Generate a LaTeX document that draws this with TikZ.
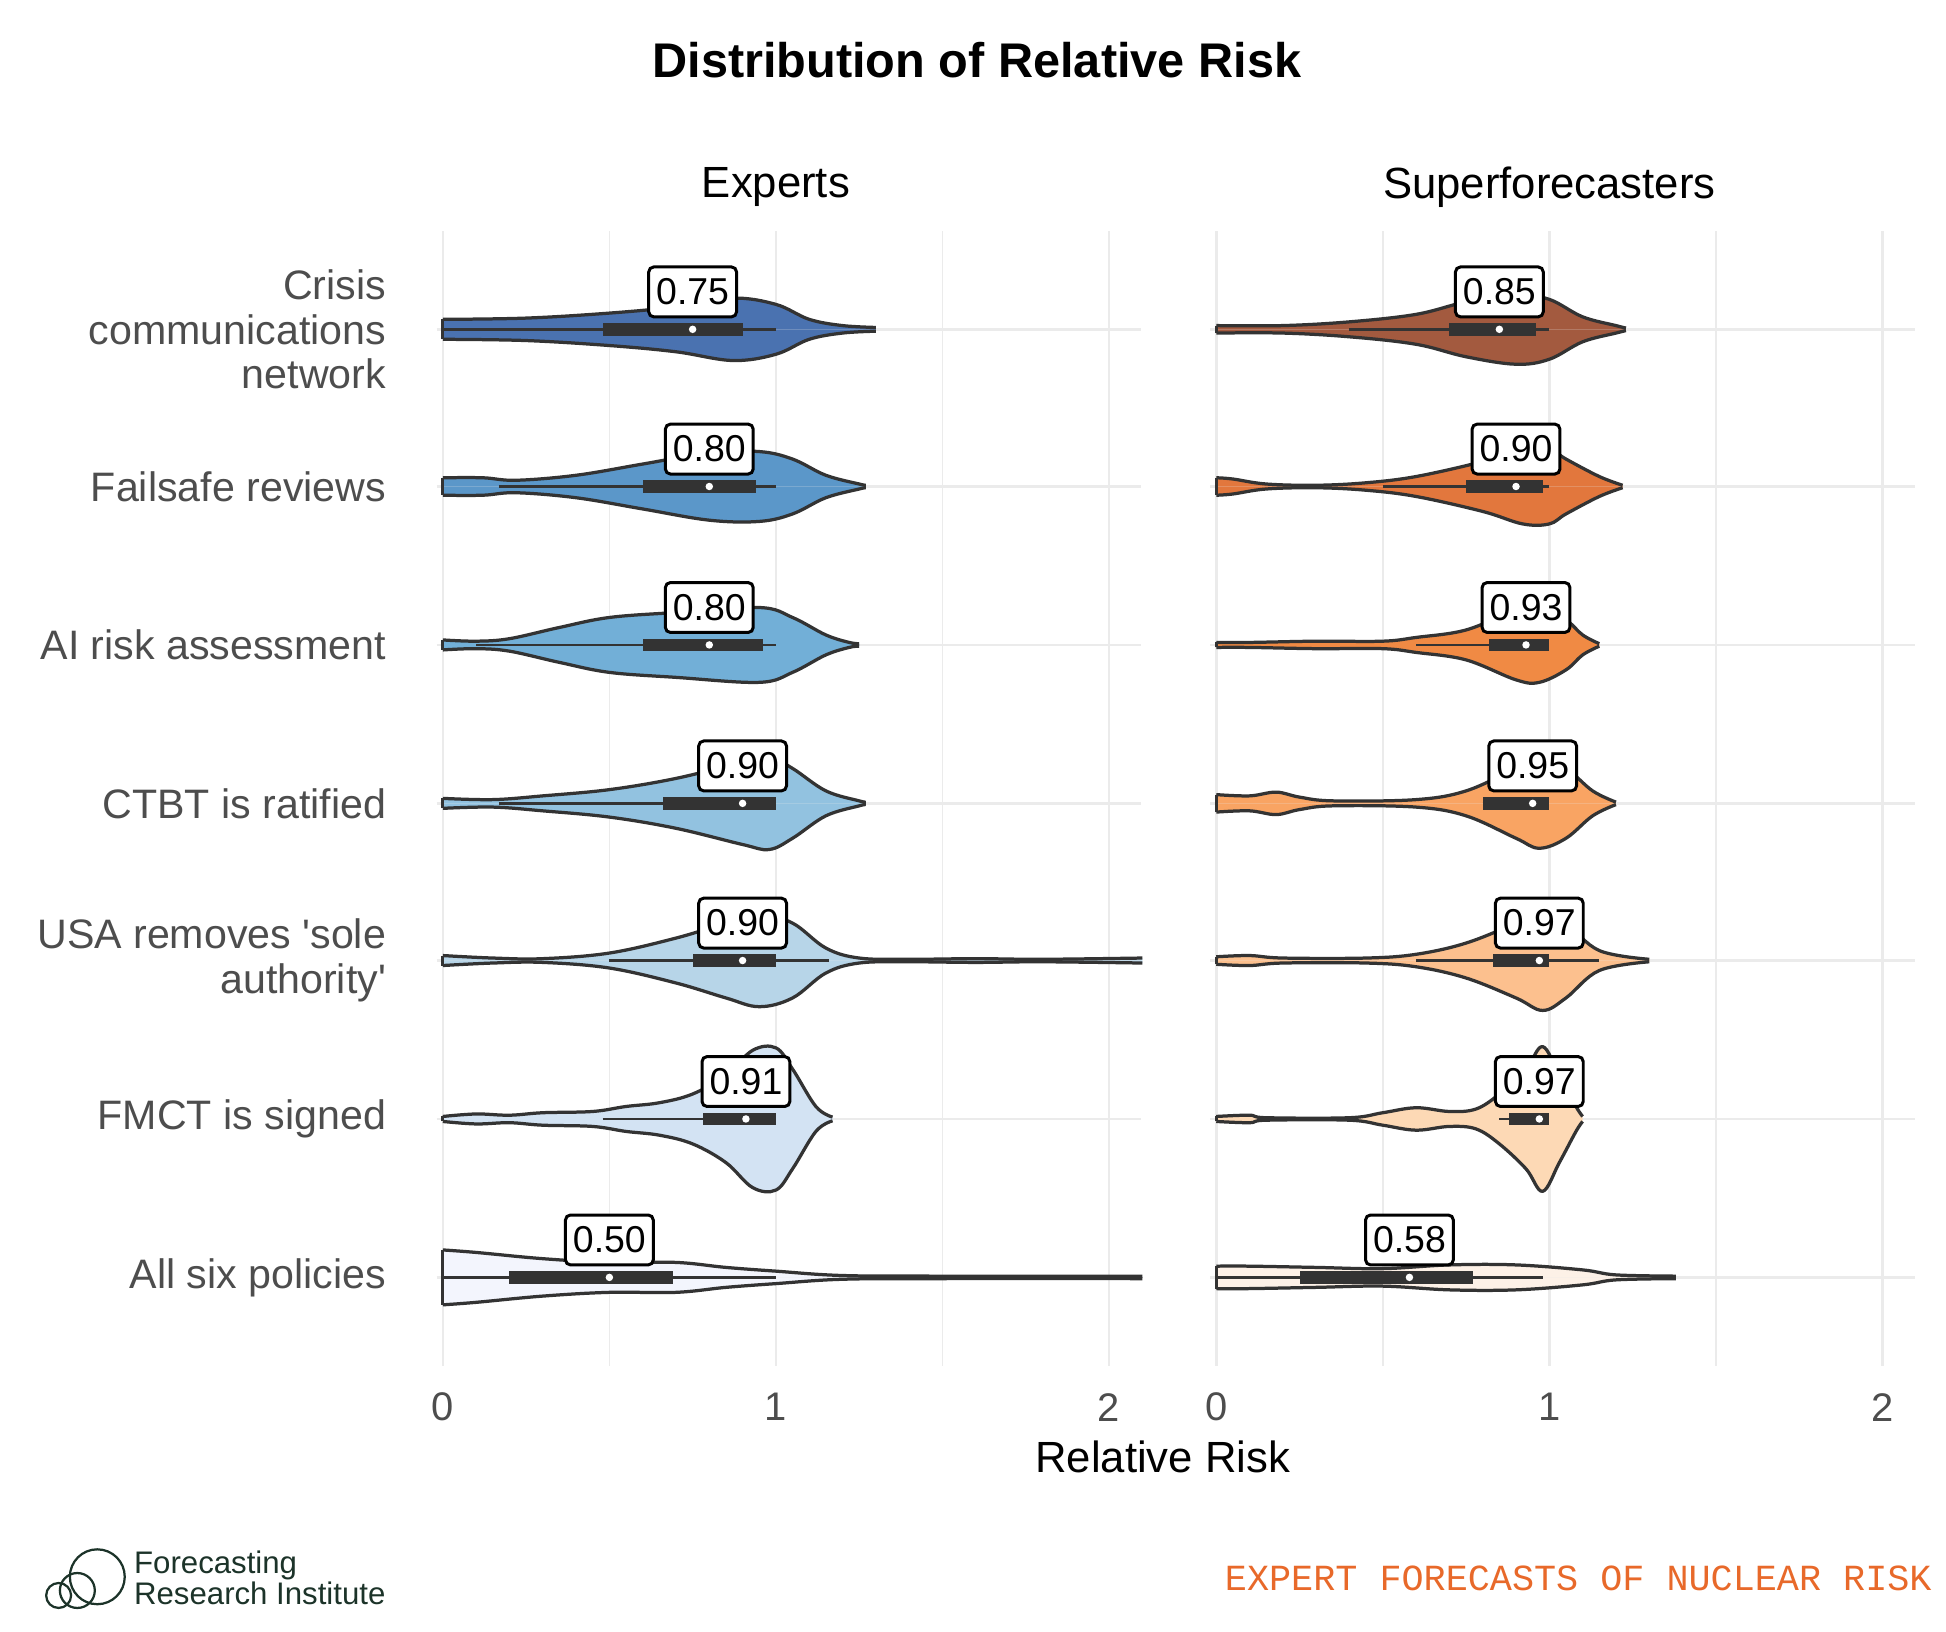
\documentclass[tikz,border=0pt]{standalone}
\usepackage{fontspec}
\setmainfont{Liberation Sans}
\newfontfamily\monof{Liberation Mono}
\begin{document}
\begin{tikzpicture}[x=1pt,y=1pt]
\definecolor{gridc}{HTML}{EBEBEB}
\definecolor{outl}{HTML}{333333}
\definecolor{lab}{HTML}{4D4D4D}
\definecolor{ea}{HTML}{4A72B0}\definecolor{eb}{HTML}{5B97C9}\definecolor{ec}{HTML}{72AFD7}
\definecolor{ed}{HTML}{92C2E0}\definecolor{ee}{HTML}{B7D5E8}\definecolor{ef}{HTML}{D3E3F3}\definecolor{eg}{HTML}{F3F5FD}
\definecolor{sa}{HTML}{A35A3F}\definecolor{sb}{HTML}{E2773D}\definecolor{sc}{HTML}{F08A44}
\definecolor{sd}{HTML}{F9A463}\definecolor{se}{HTML}{FCC08E}\definecolor{sf}{HTML}{FDD9B5}\definecolor{sg}{HTML}{FDF1E7}
\definecolor{orng}{HTML}{E8692A}\definecolor{logoc}{HTML}{1C3329}
\tikzset{
 majg/.style={gridc,line width=2pt},
 ming/.style={gridc,line width=1.2pt},
 vline/.style={outl,line width=2.6pt,line join=round},
 medlab/.style={draw=black,fill=white,line width=2.4pt,rounded corners=4pt,font=\fontsize{30}{32}\selectfont,inner xsep=6pt,minimum height=40pt},
 rowlab/.style={anchor=east,align=right,text=lab,font=\fontsize{33}{36}\selectfont},
 ticklab/.style={text=lab,font=\fontsize{32}{34}\selectfont},
}
\useasboundingbox (0,0) rectangle (1560,-1308);
% grids
\foreach \ox/\xe in {355/915,975/1535}{
 \foreach \v in {0.5,1.5}{\draw[ming] (\ox+267*\v,-185) -- (\ox+267*\v,-1095);}
 \foreach \v in {0,1,2}{\draw[majg] (\ox+267*\v,-185) -- (\ox+267*\v,-1095);}
 \foreach \yy in {264,390,517,644,770,897,1024}{\draw[majg] (\ox-5,-\yy) -- (\xe,-\yy);}
}
\newcommand\vio[5]{%
 \begin{scope}[shift={(#1,-#2)},x=267pt,y=1pt]
  \foreach \s in {1,-1}{\begin{scope}[yscale=\s]
   \fill[#3] plot[smooth,tension=0.6] coordinates {#4} |- (0,0) -- cycle;
  \end{scope}}
  \foreach \s in {1,-1}{\begin{scope}[yscale=\s]
   \draw[vline] plot[smooth,tension=0.6] coordinates {#4};
  \end{scope}}
  \draw[vline] (0,-#5) -- (0,#5);
 \end{scope}}
\newcommand\bx[8]{%
 \begin{scope}[shift={(#1,-#2)},x=267pt,y=1pt]
  \draw[outl,line width=2.2pt] (#3,0) -- (#4,0);
  \fill[outl] (#5,-5) rectangle (#6,5);
  \fill[white] (#7,0) circle (3pt);
  \node[medlab] (lab#1#2) at (#7,30) {#8};
 \end{scope}}
% Experts
\vio{355}{264}{ea}{(0,8) (0.25,9) (0.5,13) (0.7,18) (0.87,25) (1.0,20) (1.1,8) (1.2,3) (1.3,1.5)}{8}
\vio{355}{390}{eb}{(0,7) (0.12,7) (0.22,5) (0.4,9) (0.6,18) (0.8,27) (0.95,28) (1.05,22) (1.15,9) (1.25,2) (1.27,1)}{7}
\vio{355}{517}{ec}{(0,4) (0.1,3) (0.2,5) (0.35,14) (0.5,22) (0.7,26) (0.95,30) (1.05,22) (1.15,8) (1.22,2) (1.25,1)}{4}
\vio{355}{644}{ed}{(0,4) (0.15,3) (0.3,6) (0.5,11) (0.7,20) (0.9,33) (0.98,37) (1.05,28) (1.15,10) (1.25,2) (1.27,1)}{4}
\vio{355}{770}{ee}{(0,4) (0.15,2) (0.3,1.5) (0.5,6) (0.7,18) (0.85,30) (0.95,37) (1.05,30) (1.15,10) (1.25,2) (1.4,1) (1.6,1.5) (1.8,1) (2.1,2)}{4}
\vio{355}{897}{ef}{(0,2) (0.1,4) (0.2,3) (0.3,5) (0.45,6) (0.55,10) (0.65,13) (0.75,20) (0.85,35) (0.93,55) (1.0,57) (1.05,40) (1.12,10) (1.17,1.5)}{2}
\vio{355}{1024}{eg}{(0,22) (0.1,20) (0.3,15) (0.5,12) (0.7,12) (0.85,8) (1.0,5) (1.2,1.5) (1.5,1) (2.1,1)}{22}
\bx{355}{264}{0}{1}{0.48}{0.9}{0.75}{0.75}
\bx{355}{390}{0.17}{1}{0.6}{0.94}{0.8}{0.80}
\bx{355}{517}{0.1}{1}{0.6}{0.96}{0.8}{0.80}
\bx{355}{644}{0.17}{1}{0.66}{1.0}{0.9}{0.90}
\bx{355}{770}{0.5}{1.16}{0.75}{1.0}{0.9}{0.90}
\bx{355}{897}{0.48}{1}{0.78}{1.0}{0.91}{0.91}
\bx{355}{1024}{0}{1}{0.2}{0.69}{0.5}{0.50}
% Superforecasters
\vio{975}{264}{sa}{(0,3) (0.2,3) (0.4,6) (0.6,12) (0.75,22) (0.9,28) (1.0,24) (1.1,10) (1.2,3) (1.23,1)}{3}
\vio{975}{390}{sb}{(0,7) (0.05,6) (0.15,2) (0.3,1) (0.45,3) (0.6,8) (0.8,20) (0.92,30) (1.0,30) (1.05,22) (1.15,8) (1.22,1)}{7}
\vio{975}{517}{sc}{(0,2) (0.1,2) (0.3,3) (0.5,3) (0.6,6) (0.75,12) (0.9,28) (0.97,30) (1.05,20) (1.1,8) (1.15,1)}{2}
\vio{975}{644}{sd}{(0,7) (0.1,6) (0.18,9) (0.25,5) (0.35,2) (0.6,3) (0.75,10) (0.9,28) (0.97,36) (1.05,28) (1.13,10) (1.2,1)}{7}
\vio{975}{770}{se}{(0,3) (0.1,4) (0.2,2) (0.45,2) (0.6,5) (0.75,14) (0.9,30) (0.98,40) (1.05,30) (1.15,8) (1.3,1)}{3}
\vio{975}{897}{sf}{(0,2) (0.1,3) (0.15,1) (0.4,1) (0.5,5) (0.6,9) (0.7,6) (0.78,8) (0.85,20) (0.93,40) (0.98,58) (1.03,35) (1.08,10) (1.1,2)}{2}
\vio{975}{1024}{sg}{(0,9) (0.1,9) (0.3,8) (0.5,7) (0.7,10) (0.9,10) (1.1,6) (1.2,2) (1.38,1)}{9}
\bx{975}{264}{0.4}{1}{0.7}{0.96}{0.85}{0.85}
\bx{975}{390}{0.5}{1}{0.75}{0.98}{0.9}{0.90}
\bx{975}{517}{0.6}{1}{0.82}{1.0}{0.93}{0.93}
\bx{975}{644}{0.8}{1}{0.8}{1.0}{0.95}{0.95}
\bx{975}{770}{0.6}{1.15}{0.83}{1.0}{0.97}{0.97}
\bx{975}{897}{0.85}{1}{0.88}{1.0}{0.97}{0.97}
\bx{975}{1024}{0}{0.98}{0.25}{0.77}{0.58}{0.58}
% row labels
\node[rowlab] (r1) at (313,-264) {Crisis\\communications\\network};
\node[rowlab] (r2) at (313,-390) {Failsafe reviews};
\node[rowlab] (r3) at (313,-517) {AI risk assessment};
\node[rowlab] (r4) at (313,-644) {CTBT is ratified};
\node[rowlab] (r5) at (313,-770) {USA removes \textquotesingle sole\\authority\textquotesingle};
\node[rowlab] (r6) at (313,-897) {FMCT is signed};
\node[rowlab] (r7) at (313,-1024) {All six policies};
% ticks
\foreach \ox in {355,975}{\foreach \v in {0,1,2}{\node[ticklab] (t\ox\v) at (\ox+267*\v,-1128) {\v};}}
% titles
\node[font=\bfseries\fontsize{39}{42}\selectfont] (title) at (783,-48) {Distribution of Relative Risk};
\node[font=\fontsize{35}{38}\selectfont] (f1) at (622,-150) {Experts};
\node[font=\fontsize{35}{38}\selectfont] (f2) at (1242,-150) {Superforecasters};
\node[font=\fontsize{35}{38}\selectfont] (xl) at (932,-1168) {Relative Risk};
% footer
\node[text=orng,font=\monof\fontsize{29.5}{32}\selectfont,anchor=east] (foot) at (1552,-1265) {EXPERT FORECASTS OF NUCLEAR RISK};
\begin{scope}[logoc,line width=1.8pt]
 \draw (78,-1264) circle (22);
 \draw (62,-1275) circle (14);
 \draw (47,-1279) circle (10);
\end{scope}
\node[text=logoc,anchor=west,align=left,font=\fontsize{25}{25}\selectfont] (logo) at (104,-1265) {Forecasting\\Research Institute};
\end{tikzpicture}
\end{document}
